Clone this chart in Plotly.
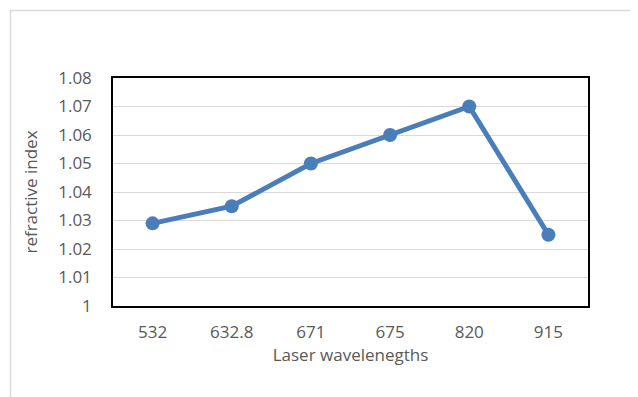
import plotly.graph_objects as go

wavelengths = ["532", "632.8", "671", "675", "820", "915"]
refractive_index = [1.029, 1.035, 1.05, 1.06, 1.07, 1.025]

# page body has an 8px margin; compensate
OFF = 8
W, H = 638 - OFF, 397 - OFF
L, R, T, B = 113 - OFF, 50, 78 - OFF, 91
pw, ph = W - L - R, H - T - B

def px(x):
    return (x - OFF - L) / pw

def py(y):
    return (H - B - (y - OFF)) / ph

fig = go.Figure()
fig.add_trace(go.Scatter(
    x=wavelengths, y=refractive_index, mode="lines+markers",
    line=dict(color="#4a7ebb", width=5),
    marker=dict(color="#4a7ebb", size=14),
    showlegend=False,
))

font = dict(family="Open Sans, Noto Sans, sans-serif", size=17, color="#595959")
fig.update_layout(
    width=W, height=H,
    margin=dict(l=L, r=R, t=T, b=B),
    paper_bgcolor="white", plot_bgcolor="white",
    font=font,
    xaxis=dict(
        type="category", range=[-0.5, 5.5],
        showline=True, linecolor="black", linewidth=1.5, mirror=True,
        showgrid=False, ticks="", ticklen=0, ticklabelstandoff=10,
        tickfont=font,
        title=dict(text="Laser wavelenegths", font=font, standoff=5),
    ),
    yaxis=dict(
        range=[1.0, 1.08], dtick=0.01, tickformat="~g",
        showline=True, linecolor="black", linewidth=1.5, mirror=True,
        showgrid=True, gridcolor="#d9d9d9", gridwidth=1.2,
        zeroline=False, ticks="", ticklabelstandoff=16,
        tickfont=font,
        title=dict(text="refractive index", font=font, standoff=16),
    ),
    shapes=[dict(
        type="rect", xref="paper", yref="paper",
        x0=px(10.5), x1=px(636.5), y0=py(430), y1=py(10.5),
        line=dict(color="#d9d9d9", width=1.5), fillcolor="rgba(0,0,0,0)",
        layer="below",
    )],
)

fig.write_html("out.html")
